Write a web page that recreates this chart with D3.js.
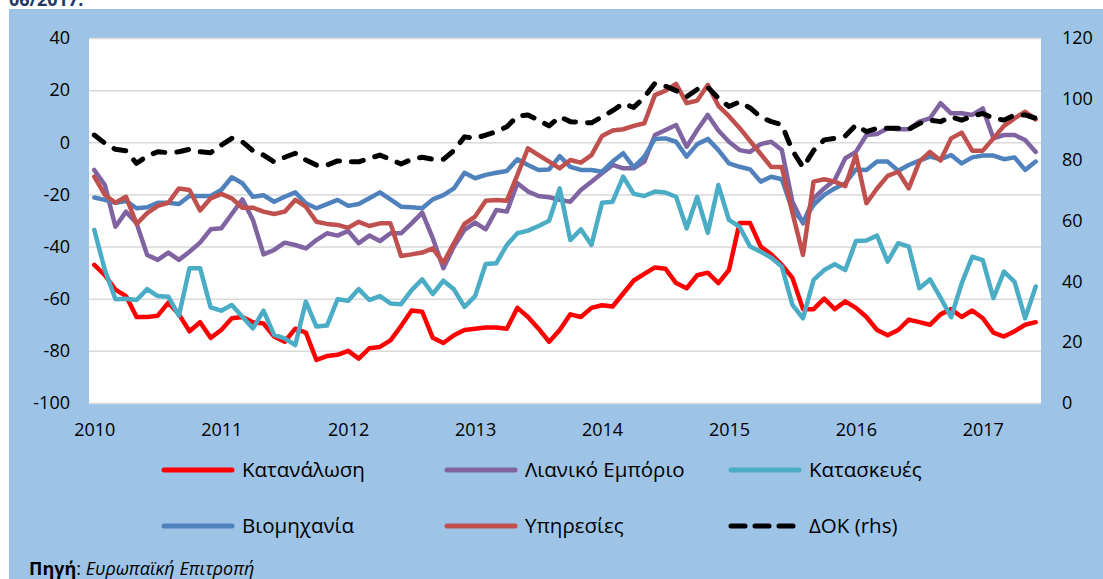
<!DOCTYPE html>
<html>
<head>
<meta charset="utf-8">
<script src="https://cdn.jsdelivr.net/npm/d3@7"></script>
<style>
  body { margin: 0; background: #fff; }
  svg text { font-family: "Open Sans", "Noto Sans", sans-serif; fill: #000; }
</style>
</head>
<body>
<svg width="1103" height="579"></svg>
<script>
// monthly data, Jan 2010 - Jun 2017
const years = ["2010", "2011", "2012", "2013", "2014", "2015", "2016", "2017"];

const consumption = [-47,-51,-56.5,-59,-67,-67,-66.5,-61.5,-66,-72.5,-69,-75,-72,-67.5,-67,-69,-69.5,-74.5,-76.5,-71.5,
  -73,-83.5,-82,-81.5,-80,-83,-79,-78.5,-76,-70.5,-64.5,-65,-75,-77,-74,-72,-71.5,-71,-71,-71.5,
  -63.5,-67,-71.5,-76.5,-72,-66,-67,-63.5,-62.5,-63,-58,-53,-50.5,-48,-48.5,-54,-56,-51,-50,-54,
  -49,-31,-31,-40,-43,-47,-52,-64,-64,-60,-64,-61,-63.5,-67,-72,-74,-72,-68,-69,-70,
  -66,-64,-67,-64.5,-67.5,-73,-74.5,-72.5,-70,-69];

const retail = [-10.6,-16.4,-32.4,-26.6,-31.1,-43.2,-45.1,-42.3,-45.1,-42,-38.5,-33.4,-33,-27.5,-21.9,-29.8,-43,-41.3,-38.5,-39.4,
  -40.7,-37.5,-34.9,-35.8,-34,-38.7,-35.8,-37.9,-34.9,-34.9,-31.1,-27,-36.8,-48.3,-40,-33.6,-30.8,-33.4,-26,-26.6,
  -15.7,-18.9,-20.6,-21.1,-22.1,-22.8,-18.3,-15.1,-11.9,-8.7,-10,-10,-7.4,2.8,4.7,6.6,-1.7,4.7,10.5,4.5,
  0.2,-3,-3.7,-0.7,0.2,-3,-22.8,-31.1,-21.5,-17.7,-14.5,-6.1,-3.7,2.8,3.2,5.4,5,5,7.9,9.2,
  15,11.1,11.1,10.5,13,1.5,2.8,2.8,0.9,-3.7];

const construction = [-33.6,-49,-60.2,-60,-60.5,-56.3,-59,-59.2,-66.5,-48.3,-48.3,-63.3,-64.6,-62.4,-66.9,-71.4,-64.6,-73.9,-75.2,-77.8,
  -61.1,-70.7,-70.3,-60.2,-60.8,-56.3,-60.5,-59,-61.8,-62.1,-56.7,-52.6,-58.2,-53.1,-56.4,-63.1,-59,-46.7,-46.4,-39.4,
  -34.9,-33.9,-32.1,-30.1,-17.7,-37.5,-33.4,-39.4,-23.2,-22.8,-13.2,-19.8,-20.6,-18.9,-19.3,-20.9,-33,-20.9,-34.7,-16.4,
  -29.8,-32.4,-40,-42,-44.3,-47.7,-62.4,-67.5,-52.8,-49,-46.8,-49,-37.9,-37.7,-35.8,-45.8,-38.7,-40,-56,-52.6,
  -59.6,-67.1,-54.1,-43.9,-45.2,-59.8,-49.6,-53.5,-67.5,-55.3];

const industry = [-21.2,-22.1,-23.2,-22.5,-25.3,-24.9,-23.2,-23.2,-23.7,-20.6,-20.6,-20.6,-18.3,-13.4,-15.7,-20.9,-20.3,-22.8,-20.9,-19.2,
  -23.4,-25.3,-23.7,-22.1,-24.4,-23.7,-21.5,-19.2,-21.9,-24.7,-24.9,-25.3,-21.9,-20.3,-17.7,-11.7,-13.8,-12.5,-11.7,-11,
  -6.5,-8.7,-10.6,-10.4,-5.3,-9.4,-10.6,-10.6,-11.3,-7.4,-4.2,-9.6,-5.5,1.3,1.5,0.2,-5.5,-0.7,1.3,-3,
  -8.1,-9.4,-10.4,-15.1,-13.2,-14.2,-26,-30.5,-24,-20.2,-17.7,-15.7,-10.4,-10.6,-7.4,-7.4,-10.9,-8.7,-7,-5.5,
  -6.5,-4.9,-8.1,-5.8,-5.1,-5.1,-6.5,-5.8,-10.6,-7.4];

const services = [-13.2,-20.2,-23.2,-20.9,-31.3,-27.2,-24.4,-23.2,-17.7,-18.3,-26.2,-21.5,-19.8,-21.5,-25.1,-25.1,-26.6,-27.5,-26.6,-22.1,
  -24.7,-30.5,-31.3,-31.7,-32.8,-30.5,-32.1,-31.1,-31.1,-43.6,-43,-42.3,-40.7,-46.2,-38.7,-31.3,-28.5,-22.4,-22.1,-22.4,
  -12.5,-2.3,-4.9,-7.4,-10,-6.8,-7.8,-4.9,2.4,4.5,5,6.3,7.3,18.1,19.8,22.4,15,16,22,14,
  10,5.5,0.5,-4.5,-9.5,-9.5,-27,-43.2,-15.1,-14.2,-15.1,-16.8,-4.9,-23.4,-17.7,-12.9,-11.3,-17.7,-7.4,-3.7,
  -7,1.5,3.7,-3.2,-3.2,1.5,6.3,9.2,11.7,8.8];

const esi = [88.1,85.4,83.4,82.9,78.8,81.2,82.6,82.3,82.6,83.4,82.6,82.3,84.8,87,85.9,82.9,81.5,79.3,80.8,82.1,
  79.9,78.2,78.2,79.6,79.3,79.3,80.4,81.5,80.1,78.6,80.1,80.8,80.1,80.1,83,87.5,87,88.1,89.2,90.8,
  94.3,94.7,93,91.1,94.1,92.5,92.3,92.1,94.1,96.1,98.5,97.2,100.5,105.1,104.2,102.7,100.7,103.1,103.8,100.2,
  97.5,99,97,94,92.5,91.5,83,77.5,83,86.5,87,87.8,91.4,89.2,90.3,90.3,90.3,90,91.9,93,
  92.5,94.1,93,94.3,95.2,93.6,93,94.7,94.7,93.6];

const leftTicks = [-100, -80, -60, -40, -20, 0, 20, 40];
const rightTicks = [0, 20, 40, 60, 80, 100, 120];

const series = [
  {name: "Κατανάλωση", values: consumption, color: "#FF0000", axis: "left"},
  {name: "Λιανικό Εμπόριο", values: retail, color: "#8064A2", axis: "left"},
  {name: "Κατασκευές", values: construction, color: "#4BACC6", axis: "left"},
  {name: "Βιομηχανία", values: industry, color: "#4F81BD", axis: "left"},
  {name: "Υπηρεσίες", values: services, color: "#C0504D", axis: "left"},
  {name: "ΔΟΚ (rhs)", values: esi, color: "#000000", axis: "right", dash: true}
];

const svg = d3.select("svg");
const plot = {left: 89, right: 1041, top: 38, bottom: 403};

// background
svg.append("rect").attr("x", 9).attr("y", 9).attr("width", 1094).attr("height", 570).attr("fill", "#9DC3E6");
svg.append("text").attr("x", 9).attr("y", 6)
  .style("font-size", "18px").style("font-weight", "bold").style("fill", "#1F3864")
  .text("06/2017.");
svg.append("rect").attr("x", plot.left).attr("y", plot.top)
  .attr("width", plot.right - plot.left).attr("height", plot.bottom - plot.top).attr("fill", "#fff");

const x = d3.scalePoint()
  .domain(d3.range(consumption.length))
  .range([plot.left, plot.right])
  .padding(0.5);
const y = d3.scaleLinear().domain([-100, 40]).range([plot.bottom, plot.top]);
const y2 = d3.scaleLinear().domain([0, 120]).range([plot.bottom, plot.top]);

// left axis + gridlines
const gl = svg.append("g")
  .attr("transform", `translate(${plot.left},0)`)
  .call(d3.axisLeft(y).tickValues(leftTicks).tickFormat((d) => String(d))
    .tickSize(-(plot.right - plot.left)).tickPadding(19));
gl.select(".domain").remove();
gl.selectAll("line").attr("stroke", "#D9D9D9").attr("stroke-width", 1.5);
gl.selectAll("text").style("font-size", "18px");

// right axis
const gr = svg.append("g")
  .attr("transform", `translate(${plot.right},0)`)
  .call(d3.axisRight(y2).tickValues(rightTicks).tickSize(0).tickPadding(21));
gr.select(".domain").remove();
gr.selectAll("text").style("font-size", "18px");

// x axis
const gx = svg.append("g")
  .attr("transform", `translate(0,${plot.bottom})`)
  .call(d3.axisBottom(x)
    .tickValues(years.map((d, i) => i * 12))
    .tickFormat((d) => years[d / 12])
    .tickSize(0).tickPadding(20));
gx.select(".domain").remove();
gx.selectAll("text").style("font-size", "18px");

// lines
series.forEach(function(s) {
  const sc = s.axis == "left" ? y : y2;
  const line = d3.line()
    .x((d, i) => x(i))
    .y((d) => sc(d));
  svg.append("path")
    .datum(s.values)
    .attr("d", line)
    .attr("fill", "none")
    .attr("stroke", s.color)
    .attr("stroke-width", s.dash ? 5 : 4.5)
    .attr("stroke-linejoin", "round")
    .attr("stroke-linecap", "round")
    .attr("stroke-dasharray", s.dash ? "12,12" : null);
});

// legend
const legX = [164, 447, 731];
const legY = [470, 526];
series.forEach(function(s, i) {
  const lx = legX[i % 3], ly = legY[Math.floor(i / 3)];
  svg.append("line")
    .attr("x1", lx).attr("x2", lx + 68)
    .attr("y1", ly).attr("y2", ly)
    .attr("stroke", s.color)
    .attr("stroke-width", 5)
    .attr("stroke-linecap", "round")
    .attr("stroke-dasharray", s.dash ? "14,10" : null);
  svg.append("text")
    .attr("x", lx + 78).attr("y", ly)
    .attr("dy", "0.35em")
    .style("font-size", "20.5px")
    .text(s.name);
});

// source
const src = svg.append("text").attr("x", 29).attr("y", 575).style("font-size", "18px");
src.append("tspan").style("font-weight", "bold").text("Πηγή");
src.append("tspan").text(": ");
src.append("tspan").style("font-style", "italic").text("Ευρωπαϊκή Επιτροπή");
</script>
</body>
</html>
